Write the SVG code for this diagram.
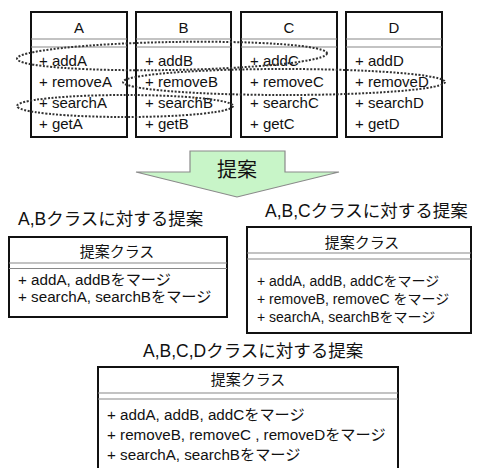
<svg xmlns="http://www.w3.org/2000/svg" width="477" height="468" viewBox="0 0 477 468">
<defs>
<style>
text{font-family:"Liberation Sans","Noto Sans CJK JP",sans-serif;fill:#111}
.box{fill:#fff;stroke:#111;stroke-width:2}
.sep{stroke:#888;stroke-width:1.2;fill:none}
.cls{font-size:15px}
.hd{font-size:15px;text-anchor:middle}
.ttl{font-size:17.5px}
.row{font-size:15.2px}
.rowS{font-size:14px}
.grp{fill:none;stroke:#333;stroke-width:2;stroke-dasharray:2 1.6}
</style>
</defs>
<rect width="477" height="468" fill="#fff"/>
<g id="classA">
<rect class="box" x="31" y="12" width="96" height="125"/>
<line class="sep" x1="31" y1="39" x2="127" y2="39"/><line class="sep" x1="31" y1="47" x2="127" y2="47"/>
<text class="hd" x="79" y="33">A</text>
<text class="cls" x="39" y="66">+ addA</text><text class="cls" x="39" y="87">+ removeA</text><text class="cls" x="39" y="108">+ searchA</text><text class="cls" x="39" y="129">+ getA</text>
</g>
<g id="classB">
<rect class="box" x="136" y="12" width="95" height="125"/>
<line class="sep" x1="136" y1="39" x2="231" y2="39"/><line class="sep" x1="136" y1="47" x2="231" y2="47"/>
<text class="hd" x="183.5" y="33">B</text>
<text class="cls" x="145" y="66">+ addB</text><text class="cls" x="145" y="87">+ removeB</text><text class="cls" x="145" y="108">+ searchB</text><text class="cls" x="145" y="129">+ getB</text>
</g>
<g id="classC">
<rect class="box" x="241" y="12" width="96" height="125"/>
<line class="sep" x1="241" y1="39" x2="337" y2="39"/><line class="sep" x1="241" y1="47" x2="337" y2="47"/>
<text class="hd" x="289" y="33">C</text>
<text class="cls" x="250" y="66">+ addC</text><text class="cls" x="250" y="87">+ removeC</text><text class="cls" x="250" y="108">+ searchC</text><text class="cls" x="250" y="129">+ getC</text>
</g>
<g id="classD">
<rect class="box" x="346" y="12" width="96" height="125"/>
<line class="sep" x1="346" y1="39" x2="442" y2="39"/><line class="sep" x1="346" y1="47" x2="442" y2="47"/>
<text class="hd" x="394" y="33">D</text>
<text class="cls" x="355" y="66">+ addD</text><text class="cls" x="355" y="87">+ removeD</text><text class="cls" x="355" y="108">+ searchD</text><text class="cls" x="355" y="129">+ getD</text>
</g>
<g id="groupings">
<ellipse class="grp" cx="172" cy="56" rx="155" ry="14" transform="rotate(-1 172 56)"/>
<ellipse class="grp" cx="284" cy="82" rx="161" ry="13"/>
<ellipse class="grp" cx="125" cy="106" rx="108" ry="11"/>
</g>
<g id="arrow">
<polygon points="190,151 285,151 285,172 339,172 237,197 136,172 190,172" fill="#c8f5c8" stroke="#8a8a8a" stroke-width="1.2"/>
<text x="237" y="177" font-size="20" text-anchor="middle">提案</text>
</g>
<g id="proposalAB">
<text class="ttl" x="18" y="225">A,Bクラスに対する提案</text>
<rect class="box" x="9" y="237" width="218" height="80"/>
<line class="sep" x1="9" y1="263" x2="227" y2="263"/><line class="sep" x1="9" y1="268.5" x2="227" y2="268.5"/>
<text class="hd" x="117" y="257">提案クラス</text>
<text class="row" x="18" y="285">+ addA, addBをマージ</text>
<text class="row" x="18" y="302">+ searchA, searchBをマージ</text>
</g>
<g id="proposalABC">
<text class="ttl" x="265" y="217">A,B,Cクラスに対する提案</text>
<rect class="box" x="247" y="227" width="224" height="106"/>
<line class="sep" x1="247" y1="253" x2="471" y2="253"/><line class="sep" x1="247" y1="259" x2="471" y2="259"/>
<text class="hd" x="362" y="248" font-size="14">提案クラス</text>
<text class="rowS" x="257" y="286">+ addA, addB, addCをマージ</text>
<text class="rowS" x="257" y="304">+ removeB, removeC をマージ</text>
<text class="rowS" x="257" y="322">+ searchA, searchBをマージ</text>
</g>
<g id="proposalABCD">
<text class="ttl" x="143" y="357">A,B,C,Dクラスに対する提案</text>
<rect class="box" x="98" y="367" width="300" height="110"/>
<line class="sep" x1="98" y1="393" x2="398" y2="393"/><line class="sep" x1="98" y1="399" x2="398" y2="399"/>
<text class="hd" x="248" y="385">提案クラス</text>
<text class="row" x="107" y="420">+ addA, addB, addCをマージ</text>
<text class="row" x="107" y="440">+ removeB, removeC , removeDをマージ</text>
<text class="row" x="107" y="460">+ searchA, searchBをマージ</text>
</g>
</svg>
